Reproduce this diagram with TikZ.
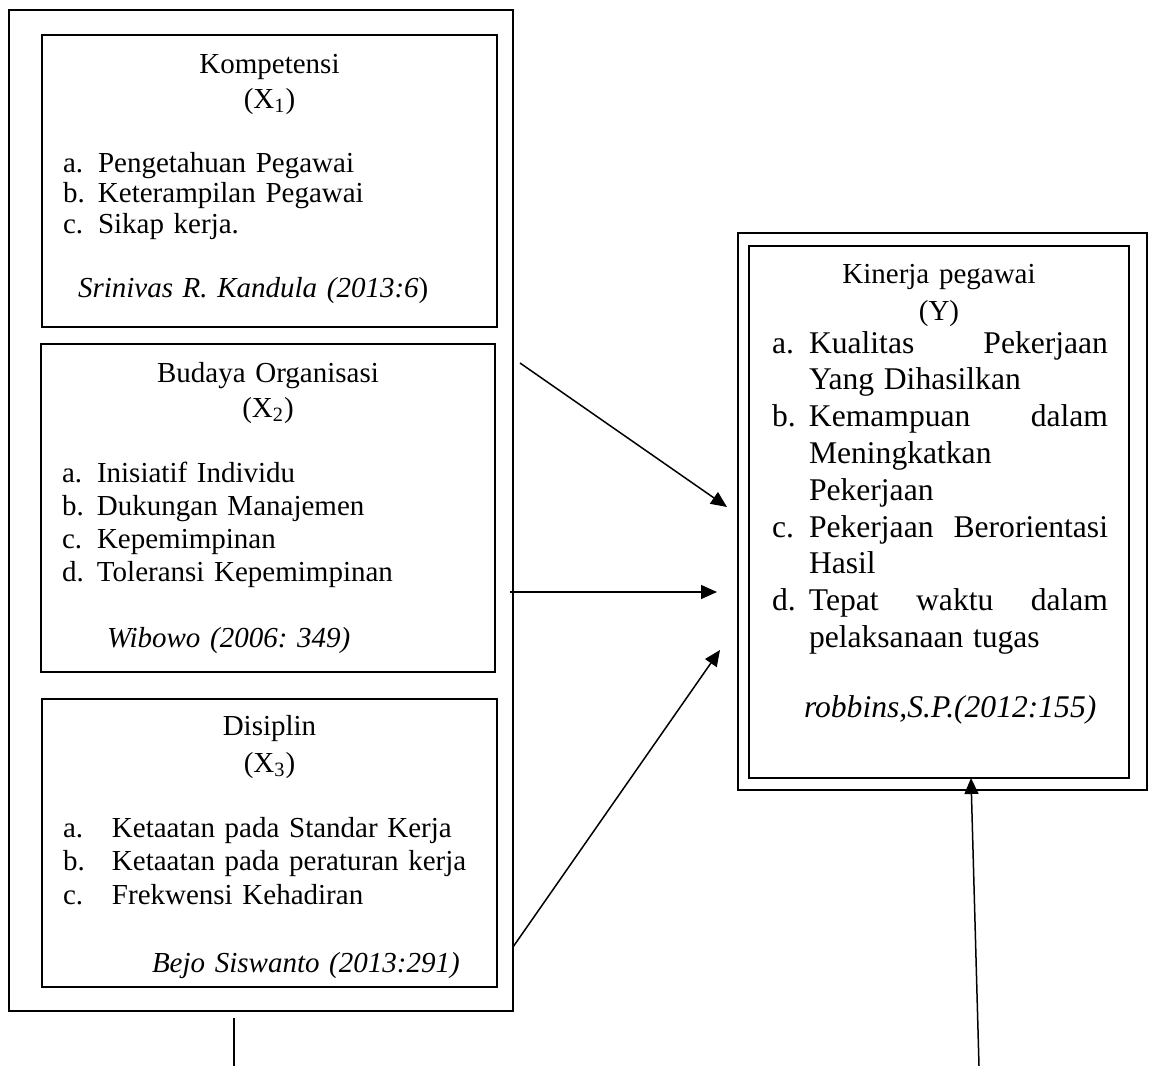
\documentclass[tikz,border=0pt]{standalone}
\usepackage{fontspec}
\setmainfont{Liberation Serif}
\usetikzlibrary{arrows.meta}
\frenchspacing

\newcommand{\butir}[2]{\hspace*{10.5pt}\makebox[#1][l]{#2}}
\newcommand{\butirY}[1]{\leavevmode\llap{\makebox[18.5pt][l]{#1}}}

\begin{document}
\begin{tikzpicture}[x=0.5pt, y=-0.5pt,
  kotak/.style={rectangle, draw, line width=0.9pt, inner sep=0pt, outer sep=0pt, anchor=north west},
  isi/.style={kotak, font=\fontsize{14.5pt}{#1}\selectfont},
  panah/.style={->, line width=0.75pt},
  >={Triangle[length=8pt, width=7pt]}]
  \useasboundingbox (0,0) rectangle (1152,1066);

  \node[kotak, minimum width=252pt, minimum height=500.5pt] (bebas) at (9,10) {};
  \node[isi=15.4pt, text width=227.5pt, text height=19pt, text depth=127pt] (kompetensi) at (42,35) {%
    {\centering Kompetensi\\[2.1pt] (X\textsubscript{1})\par}
    \vspace{16.6pt}
    \butir{17.5pt}{a.}Pengetahuan Pegawai\par
    \butir{17.5pt}{b.}Keterampilan Pegawai\par
    \butir{17.5pt}{c.}Sikap kerja.\par
    \vspace{16.6pt}
    \hspace*{18pt}\textit{Srinivas R. Kandula (2013:6})};
  \node[isi=16.65pt, text width=227pt, text height=19pt, text depth=145pt] (budaya) at (41,344) {%
    {\centering Budaya Organisasi\\[0.85pt] (X\textsubscript{2})\par}
    \vspace{15.85pt}
    \butir{17.5pt}{a.}Inisiatif Individu\par
    \butir{17.5pt}{b.}Dukungan Manajemen\par
    \butir{17.5pt}{c.}Kepemimpinan\par
    \butir{17.5pt}{d.}Toleransi Kepemimpinan\par
    \vspace{16.35pt}
    \hspace*{33pt}\textit{Wibowo (2006: 349)}};
  \node[isi=16.75pt, text width=227.5pt, text height=18pt, text depth=126pt] (disiplin) at (42,699) {%
    {\centering Disiplin\\[1.75pt] (X\textsubscript{3})\par}
    \vspace{15.75pt}
    \butir{24.5pt}{a.}Ketaatan pada Standar Kerja\par
    \butir{24.5pt}{b.}Ketaatan pada peraturan kerja\par
    \butir{24.5pt}{c.}Frekwensi Kehadiran\par
    \vspace{17.25pt}
    \hspace*{55pt}\textit{Bejo Siswanto (2013:291)}};

  \node[kotak, minimum width=204.5pt, minimum height=278.5pt] (kinerjaluar) at (738,233) {};
  \node[isi=18.5pt, text width=190pt, text height=18.5pt, text depth=247.5pt] (kinerja) at (749,246) {%
    {\centering Kinerja pegawai\\ (Y)\par}
    \fontsize{15.8pt}{18.4pt}\selectfont
    \leftskip=30pt \rightskip=10.5pt plus 1fil
    \vspace{-1.9pt}
    \butirY{a.}Kualitas\hfill Pekerjaan\\ Yang Dihasilkan\par
    \butirY{b.}Kemampuan\hfill dalam\\ Meningkatkan\\ Pekerjaan\par
    \butirY{c.}Pekerjaan\hfill Berorientasi\\ Hasil\par
    \butirY{d.}Tepat\hfill waktu\hfill dalam\\ pelaksanaan tugas\par
    \leftskip=0pt
    \vspace{16.6pt}
    \hspace*{27.5pt}\textit{robbins,S.P.(2012:155)}};

  \coordinate (a1) at (520,363);
  \coordinate (a2) at (727,507);
  \coordinate (b1) at (510,592);
  \coordinate (b2) at (717,592);
  \coordinate (c1) at (513,947);
  \coordinate (c2) at (720,650);
  \coordinate (d1) at (979,1066);
  \coordinate (d2) at (971,778);
  \coordinate (e1) at (234,1018);
  \coordinate (e2) at (234,1066);

  \draw[panah] (a1) -- (a2);
  \draw[panah] (b1) -- (b2);
  \draw[panah] (c1) -- (c2);
  \draw[panah] (d1) -- (d2);
  \draw[line width=0.75pt] (e1) -- (e2);

\end{tikzpicture}
\end{document}
